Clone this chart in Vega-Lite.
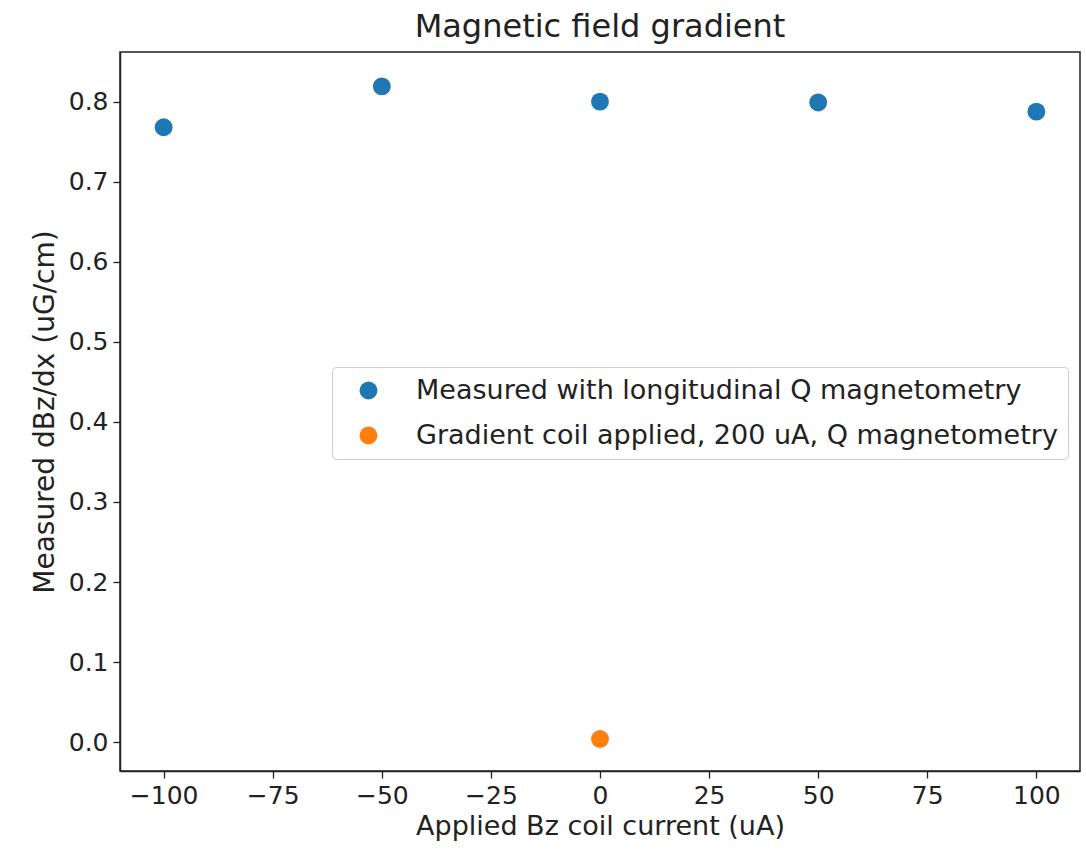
{
  "$schema": "https://vega.github.io/schema/vega-lite/v6.json",
  "autosize": {"type": "none"},
  "padding": {"left": 120, "top": 52, "right": 6, "bottom": 83},
  "width": 960,
  "height": 719,
  "background": "white",
  "title": {"text": "Magnetic field gradient", "fontSize": 32, "font": "DejaVu Sans", "fontWeight": "normal", "color": "#222", "offset": 8},
  "config": {
    "font": "DejaVu Sans",
    "view": {"stroke": "#222", "strokeWidth": 1.5},
    "axis": {"grid": false, "domainColor": "#222", "domainWidth": 1.5, "tickColor": "#222", "tickSize": 7, "tickWidth": 1.3, "labelFontSize": 25, "labelColor": "#222", "titleFontSize": 27, "titleFontWeight": "normal", "titleColor": "#222", "labelPadding": 5}
  },
  "data": {"values": [
    {"current": -100, "gradient": 0.768, "series": "Measured with longitudinal Q magnetometry"},
    {"current": -50, "gradient": 0.819, "series": "Measured with longitudinal Q magnetometry"},
    {"current": 0, "gradient": 0.800, "series": "Measured with longitudinal Q magnetometry"},
    {"current": 50, "gradient": 0.799, "series": "Measured with longitudinal Q magnetometry"},
    {"current": 100, "gradient": 0.7875, "series": "Measured with longitudinal Q magnetometry"},
    {"current": 0, "gradient": 0.004, "series": "Gradient coil applied, 200 uA, Q magnetometry"}
  ]},
  "mark": {"type": "circle", "size": 320, "opacity": 1},
  "encoding": {
    "x": {"field": "current", "type": "quantitative", "title": "Applied Bz coil current (uA)",
          "scale": {"domain": [-110, 110], "nice": false, "zero": false},
          "axis": {"values": [-100, -75, -50, -25, 0, 25, 50, 75, 100], "titlePadding": 5}},
    "y": {"field": "gradient", "type": "quantitative", "title": "Measured dBz/dx (uG/cm)",
          "scale": {"domain": [-0.036, 0.862], "nice": false, "zero": false},
          "axis": {"values": [0, 0.1, 0.2, 0.3, 0.4, 0.5, 0.6, 0.7, 0.8], "format": ".1f", "titlePadding": 9, "titleFontSize": 28}},
    "color": {"field": "series", "type": "nominal",
              "scale": {"domain": ["Measured with longitudinal Q magnetometry", "Gradient coil applied, 200 uA, Q magnetometry"], "range": ["#1f77b4", "#ff7f0e"]},
              "legend": {"title": null, "orient": "none", "legendX": 212, "legendY": 315, "labelFontSize": 27, "labelColor": "#222", "symbolType": "circle", "symbolSize": 320, "rowPadding": 17, "symbolOffset": 13, "labelOffset": 34, "padding": 10, "strokeColor": "#ccc", "fillColor": "white", "cornerRadius": 4, "labelLimit": 900}}
  }
}
